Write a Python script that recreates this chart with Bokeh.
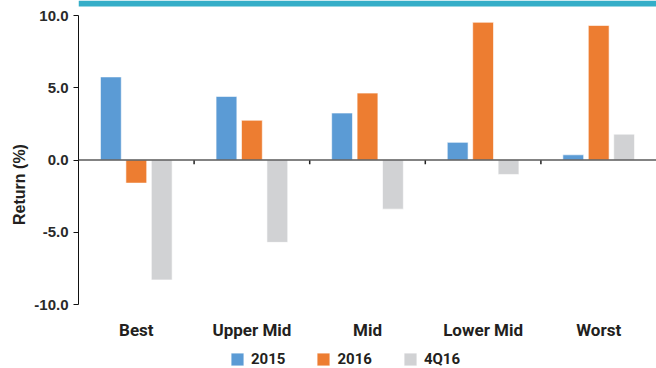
from bokeh.plotting import figure
from bokeh.models import (FactorRange, Range1d, FixedTicker, PrintfTickFormatter, Span,
                          Legend, LegendItem, ColumnDataSource, BoxAnnotation)
from bokeh.core.properties import value
from bokeh.transform import dodge
from bokeh.embed import file_html
from bokeh.resources import INLINE

# ---- data ----
categories = ["Best", "Upper Mid", "Mid", "Lower Mid", "Worst"]
series_names = ["2015", "2016", "4Q16"]
ret_2015 = [5.75, 4.4, 3.25, 1.22, 0.36]
ret_2016 = [-1.6, 2.75, 4.63, 9.53, 9.31]
ret_4q16 = [-8.3, -5.7, -3.4, -1.0, 1.79]
y_ticks = [-10, -5, 0, 5, 10]

colors = ["#5B9BD5", "#ED7D31", "#D1D2D4"]
fields = ["s2015", "s2016", "s4q16"]
offsets = [-0.22, 0.0, 0.22]

src = ColumnDataSource(dict(cat=categories, s2015=ret_2015, s2016=ret_2016, s4q16=ret_4q16))

# the frame fills the full height (0..368 px); data -10..10 spans 289 px (y=15..304)
ppu = 289 / (y_ticks[-1] - y_ticks[0])
y_top = y_ticks[-1] + 15 / ppu
y_bot = y_ticks[0] - 64 / ppu
label_y = y_ticks[0] - 25.5 / ppu

p = figure(x_range=FactorRange(*categories), y_range=Range1d(y_bot, y_top),
           width=656, height=368, output_backend="svg", toolbar_location=None,
           min_border_left=78, min_border_right=0, min_border_top=0, min_border_bottom=0)
p.outline_line_color = None
p.xgrid.visible = False
p.ygrid.visible = False
p.x_range.range_padding = 0
p.xaxis.visible = False

# top teal band (6 px high at the top of the page)
p.add_layout(BoxAnnotation(bottom=y_top - 6 / ppu, fill_color="#35AEC8", fill_alpha=1,
                           line_color=None))

renderers = []
for f, off, c in zip(fields, offsets, colors):
    r = p.vbar(x=dodge("cat", off, range=p.x_range), top=f, width=0.18, source=src,
               fill_color=c, line_color="white", line_width=1, line_alpha=0.6)
    renderers.append(r)

# zero line and category separator ticks
p.add_layout(Span(location=0, dimension="width", line_color="#5a5a5a", line_width=1.5))
bounds = list(range(1, len(categories)))
p.segment(x0=bounds, y0=[0] * len(bounds), x1=bounds, y1=[-0.3] * len(bounds),
          line_color="#222222", line_width=1.5)

# category labels
p.text(x="cat", y=label_y, text="cat", source=src, text_align="center",
       text_baseline="middle", text_font=value("Roboto"), text_font_style="bold",
       text_font_size="17px", text_color="#231F20")

# y axis
p.yaxis.bounds = (y_ticks[0], y_ticks[-1])
p.yaxis.ticker = FixedTicker(ticks=y_ticks)
p.yaxis.formatter = PrintfTickFormatter(format="%.1f")
p.yaxis.major_tick_in = 0
p.yaxis.major_tick_out = 5
p.yaxis.minor_tick_line_color = None
p.yaxis.axis_line_color = "#111111"
p.yaxis.major_tick_line_color = "#111111"
p.yaxis.major_label_standoff = 5
p.yaxis.major_label_text_font = "Liberation Sans"
p.yaxis.major_label_text_font_size = "15px"
p.yaxis.major_label_text_font_style = "bold"
p.yaxis.major_label_text_color = "#2a2a2a"
p.yaxis.axis_label = "Return (%)"
p.yaxis.axis_label_text_font = "Liberation Sans"
p.yaxis.axis_label_text_font_size = "16px"
p.yaxis.axis_label_text_font_style = "bold"
p.yaxis.axis_label_text_color = "#231F20"
p.yaxis.axis_label_standoff = 3

legend = Legend(items=[LegendItem(label=n, renderers=[r]) for n, r in zip(series_names, renderers)],
                orientation="horizontal", location=(151, 0))
legend.border_line_color = None
legend.background_fill_alpha = 0
legend.padding = 0
legend.margin = 0
legend.spacing = 30
legend.label_standoff = 6
legend.glyph_width = 16
legend.glyph_height = 16
legend.label_height = 16
legend.label_text_font = "Roboto"
legend.label_text_font_style = "bold"
legend.label_text_font_size = "15px"
legend.label_text_color = "#231F20"
p.add_layout(legend)

open("out.html", "w").write(file_html(p, INLINE))
